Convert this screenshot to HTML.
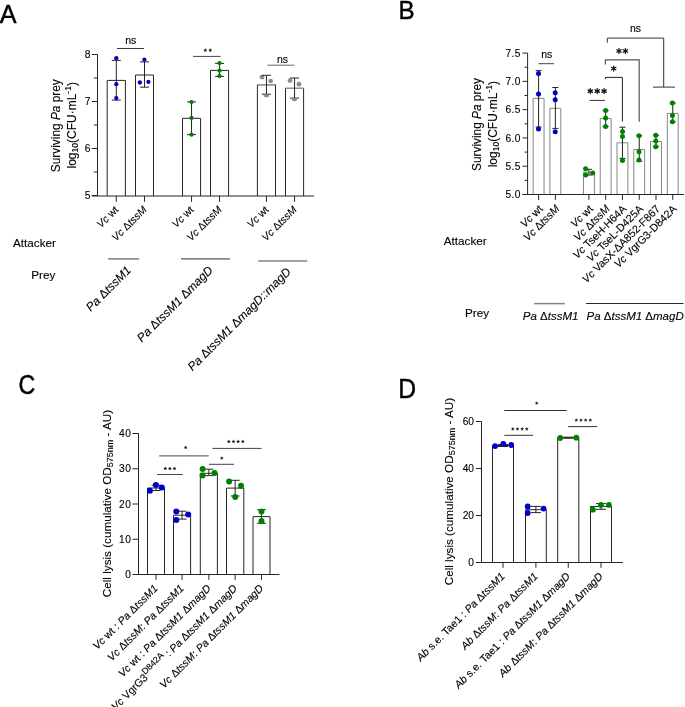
<!DOCTYPE html>
<html><head><meta charset="utf-8"><style>
html,body{margin:0;padding:0;background:#fff;overflow:hidden;}
svg{display:block;font-family:"Liberation Sans",sans-serif;will-change:transform;}
svg text{stroke:#000;stroke-width:0.12px;}
svg text.L{stroke-width:0.45px;}
</style></head><body>
<svg width="685" height="707" viewBox="0 0 685 707">
<rect width="685" height="707" fill="#fff"/>
<text class="L" x="0" y="0" font-size="26.5" fill="#000" transform="translate(-0.3 22.8) scale(0.95 1)">A</text>
<text class="L" x="0" y="0" font-size="26.5" fill="#000" transform="translate(398.6 18.6) scale(0.91 1)">B</text>
<text class="L" x="0" y="0" font-size="27" fill="#000" transform="translate(18.6 393.5) scale(0.86 1)">C</text>
<text class="L" x="0" y="0" font-size="27" fill="#000" transform="translate(398.3 398.0) scale(0.915 1)">D</text>
<line x1="97.50" y1="54.50" x2="97.50" y2="196.00" stroke="#262626" stroke-width="1.0"/>
<line x1="91.80" y1="195.50" x2="97.50" y2="195.50" stroke="#262626" stroke-width="1.0"/>
<text x="90.60" y="199.40" font-size="10.3" text-anchor="end" fill="#000" >5</text>
<line x1="91.80" y1="148.50" x2="97.50" y2="148.50" stroke="#262626" stroke-width="1.0"/>
<text x="90.60" y="152.40" font-size="10.3" text-anchor="end" fill="#000" >6</text>
<line x1="91.80" y1="101.50" x2="97.50" y2="101.50" stroke="#262626" stroke-width="1.0"/>
<text x="90.60" y="105.40" font-size="10.3" text-anchor="end" fill="#000" >7</text>
<line x1="91.80" y1="54.50" x2="97.50" y2="54.50" stroke="#262626" stroke-width="1.0"/>
<text x="90.60" y="58.40" font-size="10.3" text-anchor="end" fill="#000" >8</text>
<line x1="93.80" y1="172.00" x2="97.50" y2="172.00" stroke="#262626" stroke-width="1.0"/>
<line x1="93.80" y1="125.00" x2="97.50" y2="125.00" stroke="#262626" stroke-width="1.0"/>
<line x1="93.80" y1="78.00" x2="97.50" y2="78.00" stroke="#262626" stroke-width="1.0"/>
<line x1="116.30" y1="196.00" x2="116.30" y2="201.80" stroke="#262626" stroke-width="1.0"/>
<line x1="144.50" y1="196.00" x2="144.50" y2="201.80" stroke="#262626" stroke-width="1.0"/>
<line x1="191.55" y1="196.00" x2="191.55" y2="201.80" stroke="#262626" stroke-width="1.0"/>
<line x1="219.55" y1="196.00" x2="219.55" y2="201.80" stroke="#262626" stroke-width="1.0"/>
<line x1="266.45" y1="196.00" x2="266.45" y2="201.80" stroke="#262626" stroke-width="1.0"/>
<line x1="294.55" y1="196.00" x2="294.55" y2="201.80" stroke="#262626" stroke-width="1.0"/>
<circle cx="262.00" cy="77.20" r="2.35" fill="#8c8c8c"/>
<circle cx="270.60" cy="81.00" r="2.35" fill="#8c8c8c"/>
<circle cx="290.00" cy="80.60" r="2.35" fill="#8c8c8c"/>
<circle cx="299.00" cy="84.20" r="2.35" fill="#8c8c8c"/>
<polyline points="107.20,196.00 107.20,80.40 125.40,80.40 125.40,196.00" fill="#fff" stroke="#262626" stroke-width="1.0"/>
<polyline points="135.50,196.00 135.50,75.00 153.50,75.00 153.50,196.00" fill="#fff" stroke="#262626" stroke-width="1.0"/>
<polyline points="182.50,196.00 182.50,118.30 200.60,118.30 200.60,196.00" fill="#fff" stroke="#262626" stroke-width="1.0"/>
<polyline points="210.50,196.00 210.50,70.40 228.60,70.40 228.60,196.00" fill="#fff" stroke="#262626" stroke-width="1.0"/>
<polyline points="257.40,196.00 257.40,84.80 275.50,84.80 275.50,196.00" fill="#fff" stroke="#262626" stroke-width="1.0"/>
<polyline points="285.50,196.00 285.50,88.30 303.60,88.30 303.60,196.00" fill="#fff" stroke="#262626" stroke-width="1.0"/>
<line x1="257.40" y1="84.80" x2="275.50" y2="84.80" stroke="#9a9a9a" stroke-width="1.5"/>
<line x1="91.80" y1="196.00" x2="314.00" y2="196.00" stroke="#262626" stroke-width="1.0"/>
<line x1="285.50" y1="88.30" x2="303.60" y2="88.30" stroke="#9a9a9a" stroke-width="1.2"/>
<line x1="116.30" y1="60.40" x2="116.30" y2="100.10" stroke="#262626" stroke-width="1.0"/>
<line x1="111.80" y1="60.40" x2="120.80" y2="60.40" stroke="#262626" stroke-width="1.0"/>
<line x1="111.80" y1="100.10" x2="120.80" y2="100.10" stroke="#262626" stroke-width="1.0"/>
<line x1="144.50" y1="61.90" x2="144.50" y2="87.20" stroke="#262626" stroke-width="1.0"/>
<line x1="140.00" y1="61.90" x2="149.00" y2="61.90" stroke="#262626" stroke-width="1.0"/>
<line x1="140.00" y1="87.20" x2="149.00" y2="87.20" stroke="#262626" stroke-width="1.0"/>
<line x1="191.55" y1="101.90" x2="191.55" y2="134.60" stroke="#262626" stroke-width="1.0"/>
<line x1="187.05" y1="101.90" x2="196.05" y2="101.90" stroke="#262626" stroke-width="1.0"/>
<line x1="187.05" y1="134.60" x2="196.05" y2="134.60" stroke="#262626" stroke-width="1.0"/>
<line x1="219.55" y1="63.40" x2="219.55" y2="76.40" stroke="#262626" stroke-width="1.0"/>
<line x1="215.05" y1="63.40" x2="224.05" y2="63.40" stroke="#262626" stroke-width="1.0"/>
<line x1="215.05" y1="76.40" x2="224.05" y2="76.40" stroke="#262626" stroke-width="1.0"/>
<line x1="266.45" y1="75.30" x2="266.45" y2="94.20" stroke="#262626" stroke-width="1.0"/>
<line x1="261.95" y1="75.30" x2="270.95" y2="75.30" stroke="#262626" stroke-width="1.0"/>
<line x1="261.95" y1="94.20" x2="270.95" y2="94.20" stroke="#262626" stroke-width="1.0"/>
<line x1="294.55" y1="78.00" x2="294.55" y2="98.10" stroke="#262626" stroke-width="1.0"/>
<line x1="290.05" y1="78.00" x2="299.05" y2="78.00" stroke="#262626" stroke-width="1.0"/>
<line x1="290.05" y1="98.10" x2="299.05" y2="98.10" stroke="#262626" stroke-width="1.0"/>
<circle cx="116.30" cy="58.20" r="2.15" fill="#0000c8"/>
<circle cx="116.30" cy="84.20" r="2.15" fill="#0000c8"/>
<circle cx="116.30" cy="98.10" r="2.15" fill="#0000c8"/>
<circle cx="144.40" cy="59.70" r="2.15" fill="#0000c8"/>
<circle cx="139.90" cy="82.50" r="2.15" fill="#0000c8"/>
<circle cx="148.40" cy="81.90" r="2.15" fill="#0000c8"/>
<circle cx="191.50" cy="102.10" r="2.15" fill="#008000"/>
<circle cx="191.50" cy="117.90" r="2.15" fill="#008000"/>
<circle cx="191.50" cy="134.70" r="2.15" fill="#008000"/>
<circle cx="219.50" cy="63.10" r="2.15" fill="#008000"/>
<circle cx="219.50" cy="70.70" r="2.15" fill="#008000"/>
<circle cx="219.50" cy="76.00" r="2.15" fill="#008000"/>
<path d="M263.6,94.4 A2.85,2.85 0 0 0 269.3,94.4 Z" fill="#8c8c8c"/>
<path d="M291.7,98.3 A2.85,2.85 0 0 0 297.4,98.3 Z" fill="#8c8c8c"/>
<line x1="117.00" y1="48.50" x2="144.00" y2="48.50" stroke="#3a3a3a" stroke-width="1.0"/>
<text x="130.80" y="43.80" font-size="10.5" text-anchor="middle" fill="#000" >ns</text>
<line x1="193.10" y1="56.40" x2="220.60" y2="56.40" stroke="#444" stroke-width="1.0"/>
<polygon points="205.35,48.10 205.91,49.44 207.35,49.55 206.25,50.49 206.58,51.90 205.35,51.15 204.12,51.90 204.45,50.49 203.35,49.55 204.79,49.44" fill="#1a1a1a"/>
<polygon points="210.25,48.10 210.81,49.44 212.25,49.55 211.15,50.49 211.48,51.90 210.25,51.15 209.02,51.90 209.35,50.49 208.25,49.55 209.69,49.44" fill="#1a1a1a"/>
<line x1="267.30" y1="65.20" x2="294.40" y2="65.20" stroke="#666" stroke-width="1.0"/>
<text x="282.50" y="63.00" font-size="10.5" text-anchor="middle" fill="#000" >ns</text>
<text x="59.70" y="125.70" font-size="11.85" text-anchor="middle" fill="#000" transform="rotate(-90 59.70 125.70)" >Surviving <tspan font-style="italic">Pa</tspan> prey</text>
<text x="76.00" y="125.30" font-size="12" text-anchor="middle" fill="#000" transform="rotate(-90 76.00 125.30)" >log<tspan font-size="8.5" dy="2.2">10</tspan><tspan dy="-2.2">(CFU·mL</tspan><tspan font-size="8.5" dy="-4.5">-1</tspan><tspan dy="4.5">)</tspan></text>
<text x="119.20" y="210.40" font-size="10.5" text-anchor="end" fill="#000" transform="rotate(-45 119.20 210.40)" ><tspan font-style="italic">Vc</tspan> wt</text>
<text x="147.40" y="210.40" font-size="10.5" text-anchor="end" fill="#000" transform="rotate(-45 147.40 210.40)" ><tspan font-style="italic">Vc</tspan> Δ<tspan font-style="italic">tssM</tspan></text>
<text x="194.45" y="210.40" font-size="10.5" text-anchor="end" fill="#000" transform="rotate(-45 194.45 210.40)" ><tspan font-style="italic">Vc</tspan> wt</text>
<text x="222.45" y="210.40" font-size="10.5" text-anchor="end" fill="#000" transform="rotate(-45 222.45 210.40)" ><tspan font-style="italic">Vc</tspan> Δ<tspan font-style="italic">tssM</tspan></text>
<text x="269.35" y="210.40" font-size="10.5" text-anchor="end" fill="#000" transform="rotate(-45 269.35 210.40)" ><tspan font-style="italic">Vc</tspan> wt</text>
<text x="297.45" y="210.40" font-size="10.5" text-anchor="end" fill="#000" transform="rotate(-45 297.45 210.40)" ><tspan font-style="italic">Vc</tspan> Δ<tspan font-style="italic">tssM</tspan></text>
<text x="55.90" y="246.70" font-size="11.7" text-anchor="end" fill="#000" >Attacker</text>
<text x="55.30" y="279.40" font-size="11.7" text-anchor="end" fill="#000" >Prey</text>
<line x1="108.20" y1="258.90" x2="139.10" y2="258.90" stroke="#858585" stroke-width="1.6"/>
<line x1="181.00" y1="258.90" x2="229.90" y2="258.90" stroke="#858585" stroke-width="1.6"/>
<line x1="258.20" y1="261.00" x2="307.20" y2="261.00" stroke="#858585" stroke-width="1.6"/>
<text x="131.80" y="271.00" font-size="12" text-anchor="end" fill="#000" transform="rotate(-45 131.80 271.00)" ><tspan font-style="italic">Pa</tspan> Δ<tspan font-style="italic">tssM1</tspan></text>
<text x="213.60" y="271.00" font-size="12" text-anchor="end" fill="#000" transform="rotate(-45 213.60 271.00)" ><tspan font-style="italic">Pa</tspan> Δ<tspan font-style="italic">tssM1</tspan> Δ<tspan font-style="italic">magD</tspan></text>
<text x="291.60" y="272.50" font-size="12" text-anchor="end" fill="#000" transform="rotate(-45 291.60 272.50)" ><tspan font-style="italic">Pa</tspan> Δ<tspan font-style="italic">tssM1</tspan> Δ<tspan font-style="italic">magD::magD</tspan></text>
<line x1="527.60" y1="53.10" x2="527.60" y2="194.50" stroke="#262626" stroke-width="1.0"/>
<line x1="522.50" y1="194.50" x2="527.60" y2="194.50" stroke="#262626" stroke-width="1.0"/>
<text x="520.60" y="198.20" font-size="10.2" text-anchor="end" fill="#000" letter-spacing="0.3">5.0</text>
<line x1="522.50" y1="166.22" x2="527.60" y2="166.22" stroke="#262626" stroke-width="1.0"/>
<text x="520.60" y="169.92" font-size="10.2" text-anchor="end" fill="#000" letter-spacing="0.3">5.5</text>
<line x1="522.50" y1="137.94" x2="527.60" y2="137.94" stroke="#262626" stroke-width="1.0"/>
<text x="520.60" y="141.64" font-size="10.2" text-anchor="end" fill="#000" letter-spacing="0.3">6.0</text>
<line x1="522.50" y1="109.66" x2="527.60" y2="109.66" stroke="#262626" stroke-width="1.0"/>
<text x="520.60" y="113.36" font-size="10.2" text-anchor="end" fill="#000" letter-spacing="0.3">6.5</text>
<line x1="522.50" y1="81.38" x2="527.60" y2="81.38" stroke="#262626" stroke-width="1.0"/>
<text x="520.60" y="85.08" font-size="10.2" text-anchor="end" fill="#000" letter-spacing="0.3">7.0</text>
<line x1="522.50" y1="53.10" x2="527.60" y2="53.10" stroke="#262626" stroke-width="1.0"/>
<text x="520.60" y="56.80" font-size="10.2" text-anchor="end" fill="#000" letter-spacing="0.3">7.5</text>
<line x1="524.50" y1="180.36" x2="527.60" y2="180.36" stroke="#262626" stroke-width="1.0"/>
<line x1="524.50" y1="152.08" x2="527.60" y2="152.08" stroke="#262626" stroke-width="1.0"/>
<line x1="524.50" y1="123.80" x2="527.60" y2="123.80" stroke="#262626" stroke-width="1.0"/>
<line x1="524.50" y1="95.52" x2="527.60" y2="95.52" stroke="#262626" stroke-width="1.0"/>
<line x1="524.50" y1="67.24" x2="527.60" y2="67.24" stroke="#262626" stroke-width="1.0"/>
<line x1="538.60" y1="194.50" x2="538.60" y2="199.90" stroke="#262626" stroke-width="1.0"/>
<line x1="555.37" y1="194.50" x2="555.37" y2="199.90" stroke="#262626" stroke-width="1.0"/>
<line x1="588.91" y1="194.50" x2="588.91" y2="199.90" stroke="#262626" stroke-width="1.0"/>
<line x1="605.68" y1="194.50" x2="605.68" y2="199.90" stroke="#262626" stroke-width="1.0"/>
<line x1="622.45" y1="194.50" x2="622.45" y2="199.90" stroke="#262626" stroke-width="1.0"/>
<line x1="639.22" y1="194.50" x2="639.22" y2="199.90" stroke="#262626" stroke-width="1.0"/>
<line x1="655.99" y1="194.50" x2="655.99" y2="199.90" stroke="#262626" stroke-width="1.0"/>
<line x1="672.76" y1="194.50" x2="672.76" y2="199.90" stroke="#262626" stroke-width="1.0"/>
<polyline points="533.15,194.50 533.15,98.40 544.05,98.40 544.05,194.50" fill="#fff" stroke="#858585" stroke-width="1.0"/>
<polyline points="549.92,194.50 549.92,108.30 560.82,108.30 560.82,194.50" fill="#fff" stroke="#858585" stroke-width="1.0"/>
<polyline points="583.46,194.50 583.46,172.20 594.36,172.20 594.36,194.50" fill="#fff" stroke="#858585" stroke-width="1.0"/>
<polyline points="600.23,194.50 600.23,118.50 611.13,118.50 611.13,194.50" fill="#fff" stroke="#858585" stroke-width="1.0"/>
<polyline points="617.00,194.50 617.00,142.80 627.90,142.80 627.90,194.50" fill="#fff" stroke="#858585" stroke-width="1.0"/>
<polyline points="633.77,194.50 633.77,149.50 644.67,149.50 644.67,194.50" fill="#fff" stroke="#858585" stroke-width="1.0"/>
<polyline points="650.54,194.50 650.54,141.50 661.44,141.50 661.44,194.50" fill="#fff" stroke="#858585" stroke-width="1.0"/>
<polyline points="667.31,194.50 667.31,113.40 678.21,113.40 678.21,194.50" fill="#fff" stroke="#858585" stroke-width="1.0"/>
<line x1="522.50" y1="194.50" x2="684.00" y2="194.50" stroke="#262626" stroke-width="1.0"/>
<line x1="538.60" y1="70.60" x2="538.60" y2="127.00" stroke="#222" stroke-width="1.0"/>
<line x1="535.60" y1="70.60" x2="541.60" y2="70.60" stroke="#222" stroke-width="1.0"/>
<line x1="535.60" y1="127.00" x2="541.60" y2="127.00" stroke="#222" stroke-width="1.0"/>
<line x1="555.37" y1="87.50" x2="555.37" y2="128.40" stroke="#222" stroke-width="1.0"/>
<line x1="552.37" y1="87.50" x2="558.37" y2="87.50" stroke="#222" stroke-width="1.0"/>
<line x1="552.37" y1="128.40" x2="558.37" y2="128.40" stroke="#222" stroke-width="1.0"/>
<line x1="588.91" y1="169.30" x2="588.91" y2="175.00" stroke="#222" stroke-width="1.0"/>
<line x1="585.91" y1="169.30" x2="591.91" y2="169.30" stroke="#222" stroke-width="1.0"/>
<line x1="585.91" y1="175.00" x2="591.91" y2="175.00" stroke="#222" stroke-width="1.0"/>
<line x1="605.68" y1="110.60" x2="605.68" y2="126.50" stroke="#222" stroke-width="1.0"/>
<line x1="602.68" y1="110.60" x2="608.68" y2="110.60" stroke="#222" stroke-width="1.0"/>
<line x1="602.68" y1="126.50" x2="608.68" y2="126.50" stroke="#222" stroke-width="1.0"/>
<line x1="622.45" y1="127.20" x2="622.45" y2="158.40" stroke="#222" stroke-width="1.0"/>
<line x1="619.45" y1="127.20" x2="625.45" y2="127.20" stroke="#222" stroke-width="1.0"/>
<line x1="619.45" y1="158.40" x2="625.45" y2="158.40" stroke="#222" stroke-width="1.0"/>
<line x1="639.22" y1="135.80" x2="639.22" y2="161.30" stroke="#222" stroke-width="1.0"/>
<line x1="636.22" y1="135.80" x2="642.22" y2="135.80" stroke="#222" stroke-width="1.0"/>
<line x1="636.22" y1="161.30" x2="642.22" y2="161.30" stroke="#222" stroke-width="1.0"/>
<line x1="655.99" y1="135.30" x2="655.99" y2="146.70" stroke="#222" stroke-width="1.0"/>
<line x1="652.99" y1="135.30" x2="658.99" y2="135.30" stroke="#222" stroke-width="1.0"/>
<line x1="652.99" y1="146.70" x2="658.99" y2="146.70" stroke="#222" stroke-width="1.0"/>
<line x1="672.76" y1="103.00" x2="672.76" y2="121.80" stroke="#222" stroke-width="1.0"/>
<line x1="669.76" y1="103.00" x2="675.76" y2="103.00" stroke="#222" stroke-width="1.0"/>
<line x1="669.76" y1="121.80" x2="675.76" y2="121.80" stroke="#222" stroke-width="1.0"/>
<circle cx="538.50" cy="73.50" r="2.5" fill="#0000c8"/>
<circle cx="538.50" cy="94.00" r="2.5" fill="#0000c8"/>
<circle cx="538.50" cy="129.00" r="2.5" fill="#0000c8"/>
<circle cx="555.20" cy="92.80" r="2.5" fill="#0000c8"/>
<circle cx="555.20" cy="99.80" r="2.5" fill="#0000c8"/>
<circle cx="555.20" cy="131.80" r="2.5" fill="#0000c8"/>
<circle cx="585.60" cy="168.80" r="2.5" fill="#008000"/>
<circle cx="592.70" cy="173.00" r="2.5" fill="#008000"/>
<circle cx="585.60" cy="175.00" r="2.5" fill="#008000"/>
<circle cx="605.60" cy="110.60" r="2.5" fill="#008000"/>
<circle cx="605.60" cy="118.00" r="2.5" fill="#008000"/>
<circle cx="605.60" cy="126.50" r="2.5" fill="#008000"/>
<circle cx="622.50" cy="131.60" r="2.5" fill="#008000"/>
<circle cx="622.50" cy="136.60" r="2.5" fill="#008000"/>
<circle cx="622.50" cy="160.40" r="2.5" fill="#008000"/>
<circle cx="639.00" cy="135.80" r="2.5" fill="#008000"/>
<circle cx="639.00" cy="151.70" r="2.5" fill="#008000"/>
<circle cx="639.00" cy="160.00" r="2.5" fill="#008000"/>
<circle cx="655.80" cy="135.30" r="2.5" fill="#008000"/>
<circle cx="655.80" cy="141.10" r="2.5" fill="#008000"/>
<circle cx="655.80" cy="146.70" r="2.5" fill="#008000"/>
<circle cx="672.40" cy="103.00" r="2.5" fill="#008000"/>
<circle cx="672.40" cy="115.60" r="2.5" fill="#008000"/>
<circle cx="672.40" cy="121.80" r="2.5" fill="#008000"/>
<line x1="538.50" y1="63.70" x2="554.20" y2="63.70" stroke="#444" stroke-width="1.0"/>
<text x="546.70" y="58.20" font-size="10.5" text-anchor="middle" fill="#000" >ns</text>
<line x1="589.60" y1="100.40" x2="605.00" y2="100.40" stroke="#333" stroke-width="1.0"/>
<line x1="590.30" y1="88.60" x2="590.30" y2="93.60" stroke="#111" stroke-width="1.25" stroke-linecap="round"/>
<line x1="592.47" y1="89.85" x2="588.13" y2="92.35" stroke="#111" stroke-width="1.25" stroke-linecap="round"/>
<line x1="592.47" y1="92.35" x2="588.13" y2="89.85" stroke="#111" stroke-width="1.25" stroke-linecap="round"/>
<line x1="597.20" y1="88.60" x2="597.20" y2="93.60" stroke="#111" stroke-width="1.25" stroke-linecap="round"/>
<line x1="599.37" y1="89.85" x2="595.03" y2="92.35" stroke="#111" stroke-width="1.25" stroke-linecap="round"/>
<line x1="599.37" y1="92.35" x2="595.03" y2="89.85" stroke="#111" stroke-width="1.25" stroke-linecap="round"/>
<line x1="604.10" y1="88.60" x2="604.10" y2="93.60" stroke="#111" stroke-width="1.25" stroke-linecap="round"/>
<line x1="606.27" y1="89.85" x2="601.93" y2="92.35" stroke="#111" stroke-width="1.25" stroke-linecap="round"/>
<line x1="606.27" y1="92.35" x2="601.93" y2="89.85" stroke="#111" stroke-width="1.25" stroke-linecap="round"/>
<polyline points="605.40,79.00 605.40,77.40 622.40,77.40 622.40,121.60" fill="none" stroke="#222" stroke-width="1.0" stroke-linejoin="miter"/>
<line x1="613.70" y1="66.00" x2="613.70" y2="71.00" stroke="#111" stroke-width="1.25" stroke-linecap="round"/>
<line x1="615.87" y1="67.25" x2="611.53" y2="69.75" stroke="#111" stroke-width="1.25" stroke-linecap="round"/>
<line x1="615.87" y1="69.75" x2="611.53" y2="67.25" stroke="#111" stroke-width="1.25" stroke-linecap="round"/>
<polyline points="605.40,64.40 605.40,59.80 639.20,59.80 639.20,121.70" fill="none" stroke="#555" stroke-width="1.2" stroke-linejoin="miter"/>
<line x1="619.00" y1="48.50" x2="619.00" y2="53.50" stroke="#111" stroke-width="1.25" stroke-linecap="round"/>
<line x1="621.17" y1="49.75" x2="616.83" y2="52.25" stroke="#111" stroke-width="1.25" stroke-linecap="round"/>
<line x1="621.17" y1="52.25" x2="616.83" y2="49.75" stroke="#111" stroke-width="1.25" stroke-linecap="round"/>
<line x1="625.40" y1="48.50" x2="625.40" y2="53.50" stroke="#111" stroke-width="1.25" stroke-linecap="round"/>
<line x1="627.57" y1="49.75" x2="623.23" y2="52.25" stroke="#111" stroke-width="1.25" stroke-linecap="round"/>
<line x1="627.57" y1="52.25" x2="623.23" y2="49.75" stroke="#111" stroke-width="1.25" stroke-linecap="round"/>
<polyline points="607.30,42.70 607.30,38.10 663.70,38.10 663.70,87.10" fill="none" stroke="#333" stroke-width="1.0" stroke-linejoin="miter"/>
<line x1="653.10" y1="87.10" x2="674.90" y2="87.10" stroke="#333" stroke-width="1.0"/>
<text x="635.50" y="32.20" font-size="10.5" text-anchor="middle" fill="#000" >ns</text>
<text x="480.80" y="124.50" font-size="11.85" text-anchor="middle" fill="#000" transform="rotate(-90 480.80 124.50)" >Surviving <tspan font-style="italic">Pa</tspan> prey</text>
<text x="497.00" y="124.15" font-size="12" text-anchor="middle" fill="#000" transform="rotate(-90 497.00 124.15)" >log<tspan font-size="8.5" dy="2.2">10</tspan><tspan dy="-2.2">(CFU·mL</tspan><tspan font-size="8.5" dy="-4.5">-1</tspan><tspan dy="4.5">)</tspan></text>
<text x="543.30" y="209.50" font-size="10.8" text-anchor="end" fill="#000" transform="rotate(-45 543.30 209.50)" ><tspan font-style="italic">Vc</tspan> wt</text>
<text x="560.07" y="209.50" font-size="10.8" text-anchor="end" fill="#000" transform="rotate(-45 560.07 209.50)" ><tspan font-style="italic">Vc</tspan> Δ<tspan font-style="italic">tssM</tspan></text>
<text x="593.61" y="209.50" font-size="10.8" text-anchor="end" fill="#000" transform="rotate(-45 593.61 209.50)" ><tspan font-style="italic">Vc</tspan> wt</text>
<text x="610.38" y="209.50" font-size="10.8" text-anchor="end" fill="#000" transform="rotate(-45 610.38 209.50)" ><tspan font-style="italic">Vc</tspan> Δ<tspan font-style="italic">tssM</tspan></text>
<text x="627.15" y="209.50" font-size="10.8" text-anchor="end" fill="#000" transform="rotate(-45 627.15 209.50)" ><tspan font-style="italic">Vc</tspan> TseH-H64A</text>
<text x="643.92" y="209.50" font-size="10.8" text-anchor="end" fill="#000" transform="rotate(-45 643.92 209.50)" ><tspan font-style="italic">Vc</tspan> TseL-D425A</text>
<text x="660.69" y="209.50" font-size="10.8" text-anchor="end" fill="#000" transform="rotate(-45 660.69 209.50)" ><tspan font-style="italic">Vc</tspan> VasX-ΔA852-F867</text>
<text x="677.46" y="209.50" font-size="10.8" text-anchor="end" fill="#000" transform="rotate(-45 677.46 209.50)" ><tspan font-style="italic">Vc</tspan> VgrG3-D842A</text>
<text x="486.70" y="245.40" font-size="11.7" text-anchor="end" fill="#000" >Attacker</text>
<text x="489.00" y="316.80" font-size="11.7" text-anchor="end" fill="#000" >Prey</text>
<line x1="534.10" y1="303.60" x2="564.90" y2="303.60" stroke="#858585" stroke-width="1.5"/>
<line x1="586.00" y1="303.50" x2="683.50" y2="303.50" stroke="#2a2a2a" stroke-width="1.0"/>
<text x="550.60" y="320.30" font-size="11.5" text-anchor="middle" fill="#000" ><tspan font-style="italic">Pa</tspan> Δ<tspan font-style="italic">tssM1</tspan></text>
<text x="586.50" y="319.90" font-size="11.5" text-anchor="start" fill="#000" ><tspan font-style="italic">Pa</tspan> Δ<tspan font-style="italic">tssM1</tspan> Δ<tspan font-style="italic">magD</tspan></text>
<line x1="138.50" y1="433.30" x2="138.50" y2="574.50" stroke="#262626" stroke-width="1.0"/>
<line x1="132.50" y1="574.50" x2="138.50" y2="574.50" stroke="#262626" stroke-width="1.0"/>
<text x="131.40" y="578.20" font-size="10.2" text-anchor="end" fill="#000" letter-spacing="0.5">0</text>
<line x1="132.50" y1="539.25" x2="138.50" y2="539.25" stroke="#262626" stroke-width="1.0"/>
<text x="131.40" y="542.95" font-size="10.2" text-anchor="end" fill="#000" letter-spacing="0.5">10</text>
<line x1="132.50" y1="504.00" x2="138.50" y2="504.00" stroke="#262626" stroke-width="1.0"/>
<text x="131.40" y="507.70" font-size="10.2" text-anchor="end" fill="#000" letter-spacing="0.5">20</text>
<line x1="132.50" y1="468.75" x2="138.50" y2="468.75" stroke="#262626" stroke-width="1.0"/>
<text x="131.40" y="472.45" font-size="10.2" text-anchor="end" fill="#000" letter-spacing="0.5">30</text>
<line x1="132.50" y1="433.50" x2="138.50" y2="433.50" stroke="#262626" stroke-width="1.0"/>
<text x="131.40" y="437.20" font-size="10.2" text-anchor="end" fill="#000" letter-spacing="0.5">40</text>
<line x1="156.00" y1="574.50" x2="156.00" y2="579.80" stroke="#262626" stroke-width="1.0"/>
<line x1="182.05" y1="574.50" x2="182.05" y2="579.80" stroke="#262626" stroke-width="1.0"/>
<line x1="208.85" y1="574.50" x2="208.85" y2="579.80" stroke="#262626" stroke-width="1.0"/>
<line x1="235.15" y1="574.50" x2="235.15" y2="579.80" stroke="#262626" stroke-width="1.0"/>
<line x1="261.50" y1="574.50" x2="261.50" y2="579.80" stroke="#262626" stroke-width="1.0"/>
<polyline points="147.50,574.50 147.50,488.00 164.50,488.00 164.50,574.50" fill="#fff" stroke="#262626" stroke-width="1.0"/>
<polyline points="173.50,574.50 173.50,515.20 190.60,515.20 190.60,574.50" fill="#fff" stroke="#262626" stroke-width="1.0"/>
<polyline points="200.30,574.50 200.30,473.30 217.40,473.30 217.40,574.50" fill="#fff" stroke="#262626" stroke-width="1.0"/>
<polyline points="226.50,574.50 226.50,488.10 243.80,488.10 243.80,574.50" fill="#fff" stroke="#262626" stroke-width="1.0"/>
<polyline points="253.00,574.50 253.00,516.60 270.00,516.60 270.00,574.50" fill="#fff" stroke="#262626" stroke-width="1.0"/>
<line x1="133.00" y1="574.50" x2="279.50" y2="574.50" stroke="#262626" stroke-width="1.0"/>
<line x1="156.00" y1="485.20" x2="156.00" y2="490.50" stroke="#262626" stroke-width="1.0"/>
<line x1="151.60" y1="485.20" x2="160.40" y2="485.20" stroke="#262626" stroke-width="1.0"/>
<line x1="151.60" y1="490.50" x2="160.40" y2="490.50" stroke="#262626" stroke-width="1.0"/>
<line x1="182.05" y1="511.20" x2="182.05" y2="519.10" stroke="#262626" stroke-width="1.0"/>
<line x1="177.65" y1="511.20" x2="186.45" y2="511.20" stroke="#262626" stroke-width="1.0"/>
<line x1="177.65" y1="519.10" x2="186.45" y2="519.10" stroke="#262626" stroke-width="1.0"/>
<line x1="208.85" y1="469.20" x2="208.85" y2="475.60" stroke="#262626" stroke-width="1.0"/>
<line x1="204.45" y1="469.20" x2="213.25" y2="469.20" stroke="#262626" stroke-width="1.0"/>
<line x1="204.45" y1="475.60" x2="213.25" y2="475.60" stroke="#262626" stroke-width="1.0"/>
<line x1="235.15" y1="480.30" x2="235.15" y2="496.00" stroke="#262626" stroke-width="1.0"/>
<line x1="230.75" y1="480.30" x2="239.55" y2="480.30" stroke="#262626" stroke-width="1.0"/>
<line x1="230.75" y1="496.00" x2="239.55" y2="496.00" stroke="#262626" stroke-width="1.0"/>
<line x1="261.50" y1="509.70" x2="261.50" y2="523.30" stroke="#262626" stroke-width="1.0"/>
<line x1="257.10" y1="509.70" x2="265.90" y2="509.70" stroke="#262626" stroke-width="1.0"/>
<line x1="257.10" y1="523.30" x2="265.90" y2="523.30" stroke="#262626" stroke-width="1.0"/>
<circle cx="149.90" cy="490.70" r="3.0" fill="#0000c8"/>
<circle cx="155.90" cy="485.10" r="3.0" fill="#0000c8"/>
<circle cx="161.80" cy="487.60" r="3.0" fill="#0000c8"/>
<circle cx="176.30" cy="511.50" r="3.0" fill="#0000c8"/>
<circle cx="188.20" cy="514.50" r="3.0" fill="#0000c8"/>
<circle cx="176.30" cy="520.00" r="3.0" fill="#0000c8"/>
<circle cx="202.60" cy="469.00" r="3.0" fill="#008000"/>
<circle cx="214.50" cy="472.90" r="3.0" fill="#008000"/>
<circle cx="202.60" cy="475.60" r="3.0" fill="#008000"/>
<circle cx="229.10" cy="481.50" r="3.0" fill="#008000"/>
<circle cx="241.00" cy="485.80" r="3.0" fill="#008000"/>
<circle cx="235.20" cy="496.90" r="3.0" fill="#008000"/>
<circle cx="261.50" cy="511.50" r="3.0" fill="#008000"/>
<circle cx="261.50" cy="521.10" r="3.0" fill="#008000"/>
<line x1="157.10" y1="474.50" x2="182.80" y2="474.50" stroke="#444" stroke-width="1.0"/>
<polygon points="165.30,466.60 165.83,467.87 167.20,467.98 166.16,468.88 166.48,470.22 165.30,469.50 164.12,470.22 164.44,468.88 163.40,467.98 164.77,467.87" fill="#1a1a1a"/>
<polygon points="169.90,466.60 170.43,467.87 171.80,467.98 170.76,468.88 171.08,470.22 169.90,469.50 168.72,470.22 169.04,468.88 168.00,467.98 169.37,467.87" fill="#1a1a1a"/>
<polygon points="174.50,466.60 175.03,467.87 176.40,467.98 175.36,468.88 175.68,470.22 174.50,469.50 173.32,470.22 173.64,468.88 172.60,467.98 173.97,467.87" fill="#1a1a1a"/>
<line x1="159.20" y1="455.90" x2="208.70" y2="455.90" stroke="#444" stroke-width="1.0"/>
<polygon points="185.70,445.50 186.23,446.77 187.60,446.88 186.56,447.78 186.88,449.12 185.70,448.40 184.52,449.12 184.84,447.78 183.80,446.88 185.17,446.77" fill="#1a1a1a"/>
<line x1="208.90" y1="464.30" x2="234.10" y2="464.30" stroke="#444" stroke-width="1.0"/>
<polygon points="221.80,456.20 222.33,457.47 223.70,457.58 222.66,458.48 222.98,459.82 221.80,459.10 220.62,459.82 220.94,458.48 219.90,457.58 221.27,457.47" fill="#1a1a1a"/>
<line x1="212.40" y1="448.40" x2="261.60" y2="448.40" stroke="#444" stroke-width="1.0"/>
<polygon points="228.80,439.60 229.32,440.87 230.70,440.98 229.65,441.88 229.97,443.22 228.80,442.50 227.62,443.22 227.94,441.88 226.89,440.98 228.27,440.87" fill="#1a1a1a"/>
<polygon points="233.47,439.60 233.99,440.87 235.37,440.98 234.32,441.88 234.64,443.22 233.47,442.50 232.29,443.22 232.61,441.88 231.56,440.98 232.94,440.87" fill="#1a1a1a"/>
<polygon points="238.14,439.60 238.66,440.87 240.04,440.98 238.99,441.88 239.31,443.22 238.14,442.50 236.96,443.22 237.28,441.88 236.23,440.98 237.61,440.87" fill="#1a1a1a"/>
<polygon points="242.81,439.60 243.33,440.87 244.71,440.98 243.66,441.88 243.98,443.22 242.81,442.50 241.63,443.22 241.95,441.88 240.90,440.98 242.28,440.87" fill="#1a1a1a"/>
<text x="111.10" y="503.50" font-size="11.7" text-anchor="middle" fill="#000" transform="rotate(-90 111.10 503.50)" >Cell lysis (cumulative OD<tspan font-size="9" dy="2.3">575nm</tspan><tspan dy="-2.3"> - AU)</tspan></text>
<text x="158.50" y="589.00" font-size="10.7" text-anchor="end" fill="#000" transform="rotate(-45 158.50 589.00)" ><tspan font-style="italic">Vc</tspan> wt : <tspan font-style="italic">Pa</tspan> Δ<tspan font-style="italic">tssM1</tspan></text>
<text x="184.55" y="589.00" font-size="10.7" text-anchor="end" fill="#000" transform="rotate(-45 184.55 589.00)" ><tspan font-style="italic">Vc</tspan> Δ<tspan font-style="italic">tssM</tspan>: <tspan font-style="italic">Pa</tspan> Δ<tspan font-style="italic">tssM1</tspan></text>
<text x="211.35" y="589.00" font-size="10.7" text-anchor="end" fill="#000" transform="rotate(-45 211.35 589.00)" ><tspan font-style="italic">Vc</tspan> wt : <tspan font-style="italic">Pa</tspan> Δ<tspan font-style="italic">tssM1</tspan> Δ<tspan font-style="italic">magD</tspan></text>
<text x="237.65" y="589.00" font-size="10.7" text-anchor="end" fill="#000" transform="rotate(-45 237.65 589.00)" ><tspan font-style="italic">Vc</tspan> VgrG3<tspan font-size="8.8" dy="-4.6">D842A</tspan><tspan dy="4.6"> : </tspan><tspan font-style="italic">Pa</tspan> Δ<tspan font-style="italic">tssM1</tspan> Δ<tspan font-style="italic">magD</tspan></text>
<text x="264.00" y="589.00" font-size="10.7" text-anchor="end" fill="#000" transform="rotate(-45 264.00 589.00)" ><tspan font-style="italic">Vc</tspan> Δ<tspan font-style="italic">tssM</tspan>: <tspan font-style="italic">Pa</tspan> Δ<tspan font-style="italic">tssM1</tspan> Δ<tspan font-style="italic">magD</tspan></text>
<line x1="481.50" y1="421.50" x2="481.50" y2="562.50" stroke="#262626" stroke-width="1.0"/>
<line x1="476.00" y1="562.50" x2="481.50" y2="562.50" stroke="#262626" stroke-width="1.0"/>
<text x="474.00" y="566.20" font-size="10.2" text-anchor="end" fill="#000" >0</text>
<line x1="476.00" y1="515.50" x2="481.50" y2="515.50" stroke="#262626" stroke-width="1.0"/>
<text x="474.00" y="519.20" font-size="10.2" text-anchor="end" fill="#000" >20</text>
<line x1="476.00" y1="468.50" x2="481.50" y2="468.50" stroke="#262626" stroke-width="1.0"/>
<text x="474.00" y="472.20" font-size="10.2" text-anchor="end" fill="#000" >40</text>
<line x1="476.00" y1="421.50" x2="481.50" y2="421.50" stroke="#262626" stroke-width="1.0"/>
<text x="474.00" y="425.20" font-size="10.2" text-anchor="end" fill="#000" >60</text>
<line x1="503.00" y1="562.50" x2="503.00" y2="567.80" stroke="#262626" stroke-width="1.0"/>
<line x1="535.90" y1="562.50" x2="535.90" y2="567.80" stroke="#262626" stroke-width="1.0"/>
<line x1="568.25" y1="562.50" x2="568.25" y2="567.80" stroke="#262626" stroke-width="1.0"/>
<line x1="601.00" y1="562.50" x2="601.00" y2="567.80" stroke="#262626" stroke-width="1.0"/>
<polyline points="492.50,562.50 492.50,445.50 513.50,445.50 513.50,562.50" fill="#fff" stroke="#262626" stroke-width="1.0"/>
<polyline points="525.50,562.50 525.50,509.70 546.30,509.70 546.30,562.50" fill="#fff" stroke="#262626" stroke-width="1.0"/>
<polyline points="557.70,562.50 557.70,437.70 578.80,437.70 578.80,562.50" fill="#fff" stroke="#262626" stroke-width="1.0"/>
<polyline points="590.50,562.50 590.50,506.40 611.50,506.40 611.50,562.50" fill="#fff" stroke="#262626" stroke-width="1.0"/>
<line x1="476.00" y1="562.50" x2="622.90" y2="562.50" stroke="#262626" stroke-width="1.0"/>
<line x1="503.00" y1="444.50" x2="503.00" y2="446.50" stroke="#262626" stroke-width="1.0"/>
<line x1="498.00" y1="444.50" x2="508.00" y2="444.50" stroke="#262626" stroke-width="1.0"/>
<line x1="498.00" y1="446.50" x2="508.00" y2="446.50" stroke="#262626" stroke-width="1.0"/>
<line x1="535.90" y1="506.40" x2="535.90" y2="512.60" stroke="#262626" stroke-width="1.0"/>
<line x1="530.90" y1="506.40" x2="540.90" y2="506.40" stroke="#262626" stroke-width="1.0"/>
<line x1="530.90" y1="512.60" x2="540.90" y2="512.60" stroke="#262626" stroke-width="1.0"/>
<line x1="568.25" y1="437.20" x2="568.25" y2="438.20" stroke="#262626" stroke-width="1.0"/>
<line x1="563.25" y1="437.20" x2="573.25" y2="437.20" stroke="#262626" stroke-width="1.0"/>
<line x1="563.25" y1="438.20" x2="573.25" y2="438.20" stroke="#262626" stroke-width="1.0"/>
<line x1="601.00" y1="503.60" x2="601.00" y2="509.30" stroke="#262626" stroke-width="1.0"/>
<line x1="596.00" y1="503.60" x2="606.00" y2="503.60" stroke="#262626" stroke-width="1.0"/>
<line x1="596.00" y1="509.30" x2="606.00" y2="509.30" stroke="#262626" stroke-width="1.0"/>
<circle cx="495.10" cy="446.10" r="2.9" fill="#0000c8"/>
<circle cx="503.30" cy="443.80" r="2.9" fill="#0000c8"/>
<circle cx="511.20" cy="445.00" r="2.9" fill="#0000c8"/>
<circle cx="527.70" cy="506.40" r="2.9" fill="#0000c8"/>
<circle cx="527.70" cy="513.00" r="2.9" fill="#0000c8"/>
<circle cx="543.60" cy="508.60" r="2.9" fill="#0000c8"/>
<circle cx="560.20" cy="438.00" r="2.9" fill="#008000"/>
<circle cx="576.30" cy="437.70" r="2.9" fill="#008000"/>
<circle cx="592.90" cy="509.70" r="2.9" fill="#008000"/>
<circle cx="601.00" cy="504.90" r="2.9" fill="#008000"/>
<circle cx="608.90" cy="504.90" r="2.9" fill="#008000"/>
<line x1="504.30" y1="435.30" x2="533.10" y2="435.30" stroke="#333" stroke-width="1.0"/>
<polygon points="512.79,427.00 513.32,428.27 514.70,428.38 513.65,429.28 513.97,430.62 512.79,429.90 511.62,430.62 511.94,429.28 510.89,428.38 512.27,428.27" fill="#1a1a1a"/>
<polygon points="517.46,427.00 517.99,428.27 519.37,428.38 518.32,429.28 518.64,430.62 517.46,429.90 516.29,430.62 516.61,429.28 515.56,428.38 516.94,428.27" fill="#1a1a1a"/>
<polygon points="522.13,427.00 522.66,428.27 524.04,428.38 522.99,429.28 523.31,430.62 522.13,429.90 520.96,430.62 521.28,429.28 520.23,428.38 521.61,428.27" fill="#1a1a1a"/>
<polygon points="526.80,427.00 527.33,428.27 528.71,428.38 527.66,429.28 527.98,430.62 526.80,429.90 525.63,430.62 525.95,429.28 524.90,428.38 526.28,428.27" fill="#1a1a1a"/>
<line x1="504.30" y1="410.50" x2="566.70" y2="410.50" stroke="#333" stroke-width="1.0"/>
<polygon points="536.70,401.20 537.23,402.47 538.60,402.58 537.56,403.48 537.88,404.82 536.70,404.10 535.52,404.82 535.84,403.48 534.80,402.58 536.17,402.47" fill="#1a1a1a"/>
<line x1="568.20" y1="426.60" x2="597.20" y2="426.60" stroke="#333" stroke-width="1.0"/>
<polygon points="576.29,418.20 576.82,419.47 578.20,419.58 577.15,420.48 577.47,421.82 576.29,421.10 575.12,421.82 575.44,420.48 574.39,419.58 575.77,419.47" fill="#1a1a1a"/>
<polygon points="580.96,418.20 581.49,419.47 582.87,419.58 581.82,420.48 582.14,421.82 580.96,421.10 579.79,421.82 580.11,420.48 579.06,419.58 580.44,419.47" fill="#1a1a1a"/>
<polygon points="585.63,418.20 586.16,419.47 587.54,419.58 586.49,420.48 586.81,421.82 585.63,421.10 584.46,421.82 584.78,420.48 583.73,419.58 585.11,419.47" fill="#1a1a1a"/>
<polygon points="590.30,418.20 590.83,419.47 592.21,419.58 591.16,420.48 591.48,421.82 590.30,421.10 589.13,421.82 589.45,420.48 588.40,419.58 589.78,419.47" fill="#1a1a1a"/>
<text x="453.00" y="491.60" font-size="11.7" text-anchor="middle" fill="#000" transform="rotate(-90 453.00 491.60)" >Cell lysis (cumulative OD<tspan font-size="9" dy="2.3">575nm</tspan><tspan dy="-2.3"> - AU)</tspan></text>
<text x="505.50" y="577.00" font-size="10.7" text-anchor="end" fill="#000" transform="rotate(-45 505.50 577.00)" ><tspan font-style="italic">Ab</tspan> s.e. Tae1 : <tspan font-style="italic">Pa</tspan> Δ<tspan font-style="italic">tssM1</tspan></text>
<text x="538.40" y="577.00" font-size="10.7" text-anchor="end" fill="#000" transform="rotate(-45 538.40 577.00)" ><tspan font-style="italic">Ab</tspan> Δ<tspan font-style="italic">tssM</tspan>: <tspan font-style="italic">Pa</tspan> Δ<tspan font-style="italic">tssM1</tspan></text>
<text x="570.75" y="577.00" font-size="10.7" text-anchor="end" fill="#000" transform="rotate(-45 570.75 577.00)" ><tspan font-style="italic">Ab</tspan> s.e. Tae1 : <tspan font-style="italic">Pa</tspan> Δ<tspan font-style="italic">tssM1</tspan> Δ<tspan font-style="italic">magD</tspan></text>
<text x="603.50" y="577.00" font-size="10.7" text-anchor="end" fill="#000" transform="rotate(-45 603.50 577.00)" ><tspan font-style="italic">Ab</tspan> Δ<tspan font-style="italic">tssM</tspan>: <tspan font-style="italic">Pa</tspan> Δ<tspan font-style="italic">tssM1</tspan> Δ<tspan font-style="italic">magD</tspan></text>
</svg></body></html>
